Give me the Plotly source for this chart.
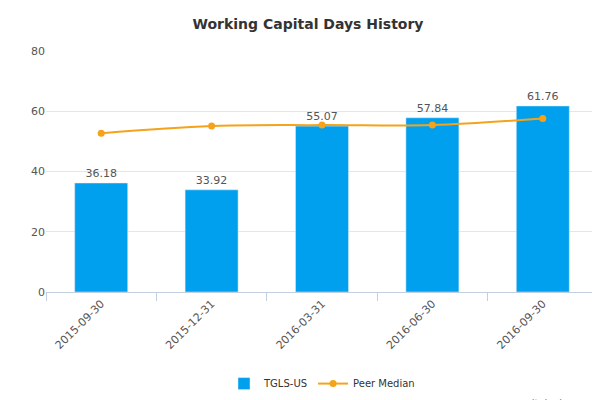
import plotly.graph_objects as go

categories = ["2015-09-30", "2015-12-31", "2016-03-31", "2016-06-30", "2016-09-30"]
tgls = [36.18, 33.92, 55.07, 57.84, 61.76]
peer = [52.7, 55.1, 55.4, 55.4, 57.6]
labels = [f"{v:.2f}" for v in tgls]

fig = go.Figure()
fig.add_bar(x=categories, y=tgls, name="TGLS-US", marker_color="#00a0ee",
            text=labels, textposition="outside", textfont=dict(size=11, color="#555"),
            cliponaxis=False)
fig.add_scatter(x=categories, y=peer, name="Peer Median", mode="lines+markers",
                line=dict(color="#f5a31a", width=2, shape="spline"),
                marker=dict(size=7, color="#f5a31a"))
fig.update_layout(
    width=600, height=400, margin=dict(l=38, r=10, t=43, b=113),
    plot_bgcolor="white", paper_bgcolor="white",
    font=dict(family="DejaVu Sans", size=11, color="#555"),
    title=dict(text="<b>Working Capital Days History</b>", x=0.5, xanchor="center",
               yref="container", y=0.96, yanchor="middle",
               font=dict(size=14, color="#333")),
    yaxis=dict(range=[0, 80], dtick=20, gridcolor="#e6e6e6", zeroline=False,
               automargin=False, tickfont=dict(size=11, color="#555")),
    xaxis=dict(type="category", tickangle=-45, showline=True, linecolor="#c0d0e0",
               ticks="outside", tickcolor="#c0d0e0", tickson="boundaries", ticklen=8,
               automargin=False, tickfont=dict(size=11, color="#555")),
    legend=dict(orientation="h", x=0.5, xanchor="center", y=-0.38, yanchor="middle",
                font=dict(size=10, color="#333")),
    bargap=0.52,
)
fig.add_annotation(text="www.capitalcube.com", xref="paper", yref="paper", x=1, y=-0.43,
                   xanchor="right", yanchor="top", showarrow=False,
                   font=dict(size=10, color="#777"))
fig.write_html("out.html")
